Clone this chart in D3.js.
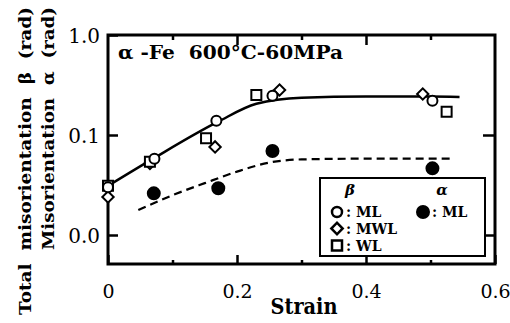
<!DOCTYPE html>
<html>
<head>
<meta charset="utf-8">
<script src="https://cdn.jsdelivr.net/npm/d3@7"></script>
<style>
  body { margin: 0; background: #fff; }
  svg text { font-family: "DejaVu Serif", serif; fill: #000; white-space: pre; }
</style>
</head>
<body>
<svg id="chart" width="510" height="323"></svg>
<script>
// beta (total misorientation) measured points
const strainML  = [0, 0.072, 0.168, 0.255, 0.503];
const betaML    = [0.030, 0.058, 0.139, 0.247, 0.220];
const strainMWL = [0, 0.065, 0.166, 0.266, 0.488];
const betaMWL   = [0.024, 0.052, 0.076, 0.282, 0.257];
const strainWL  = [0, 0.065, 0.152, 0.230, 0.525];
const betaWL    = [0.031, 0.054, 0.093, 0.251, 0.171];
// alpha (misorientation) measured points
const strainAlpha = [0.071, 0.171, 0.255, 0.503];
const alphaML     = [0.0261, 0.0293, 0.0692, 0.0464];
// hand drawn trend lines
const fitStrainB = [0, 0.07, 0.17, 0.23, 0.30, 0.40, 0.50, 0.545];
const fitBeta    = [0.031, 0.058, 0.135, 0.205, 0.236, 0.242, 0.242, 0.240];
const fitStrainA = [0.047, 0.10, 0.15, 0.20, 0.25, 0.30, 0.40, 0.535];
const fitAlpha   = [0.0178, 0.025, 0.033, 0.043, 0.053, 0.057, 0.058, 0.058];
// ticks
const xMajor = [0, 0.2, 0.4, 0.6];
const xMinor = [0.1, 0.3, 0.5];
const yTicks = [1, 0.1, 0.01];
const yLabels = ["1.0", "0.1", "0.0"];

var svg = d3.select('#chart');
var plot = { l: 108, r: 495, t: 35, b: 264 };

var x = d3.scaleLinear().domain([0, 0.6]).range([plot.l, plot.r]);
var y = d3.scaleLog().domain([Math.pow(10, -2.29), 1]).range([plot.b, plot.t]);

// axes
function styleAxis(g) {
  g.attr('font-family', null);
  g.select('.domain').remove();
  g.selectAll('.tick line').attr('stroke', '#000').attr('stroke-width', 2.5);
}

var bottom = svg.append('g').attr('transform', `translate(0,${plot.b})`)
  .call(d3.axisBottom(x).tickValues(xMajor).tickSizeInner(-9).tickFormat(d => d === 0 ? '0' : d3.format('.1f')(d)));
styleAxis(bottom);
bottom.selectAll('.tick text').attr('y', 34).attr('dy', null).style('font-size', '19px');
svg.append('g').attr('transform', `translate(0,${plot.b})`)
  .call(d3.axisBottom(x).tickValues(xMinor).tickSizeInner(-4).tickFormat('')).call(styleAxis);

svg.append('g').attr('transform', `translate(0,${plot.t})`)
  .call(d3.axisTop(x).tickValues([0.2, 0.4]).tickSizeInner(-10).tickFormat('')).call(styleAxis);
svg.append('g').attr('transform', `translate(0,${plot.t})`)
  .call(d3.axisTop(x).tickValues(xMinor).tickSizeInner(-5).tickFormat('')).call(styleAxis);

var left = svg.append('g').attr('transform', `translate(${plot.l},0)`)
  .call(d3.axisLeft(y).tickValues(yTicks).tickSizeInner(-10).tickPadding(8)
    .tickFormat((d, i) => yLabels[i]));
styleAxis(left);
left.selectAll('.tick text').attr('dy', '0.36em').style('font-size', '20px');

svg.append('g').attr('transform', `translate(${plot.r},0)`)
  .call(d3.axisRight(y).tickValues([0.1, 0.01]).tickSizeInner(-12).tickFormat('')).call(styleAxis);

svg.append('rect')
  .attr('x', plot.l).attr('y', plot.t)
  .attr('width', plot.r - plot.l).attr('height', plot.b - plot.t)
  .attr('fill', 'none').attr('stroke', '#000').attr('stroke-width', 3);

// trend lines
var line = d3.line().curve(d3.curveMonotoneX);
svg.append('path')
  .attr('d', line(fitStrainB.map((s, i) => [x(s), y(fitBeta[i])])))
  .attr('fill', 'none').attr('stroke', '#000').attr('stroke-width', 2.5);
svg.append('path')
  .attr('d', line(fitStrainA.map((s, i) => [x(s), y(fitAlpha[i])])))
  .attr('fill', 'none').attr('stroke', '#000').attr('stroke-width', 2.2)
  .attr('stroke-dasharray', '8,5');

// markers
var sqSym = d3.symbol().type(d3.symbolSquare).size(100);
var diaSym = d3.symbol().type(d3.symbolSquare).size(64);

function squares(xs, ys) {
  svg.append('g').selectAll('path').data(xs).enter().append('path')
    .attr('d', sqSym)
    .attr('transform', (d, i) => `translate(${x(d)},${y(ys[i])})`)
    .attr('fill', '#fff').attr('stroke', '#000').attr('stroke-width', 2);
}
function diamonds(xs, ys) {
  svg.append('g').selectAll('path').data(xs).enter().append('path')
    .attr('d', diaSym)
    .attr('transform', (d, i) => `translate(${x(d)},${y(ys[i])}) rotate(45)`)
    .attr('fill', '#fff').attr('stroke', '#000').attr('stroke-width', 2);
}
function circles(xs, ys, filled) {
  svg.append('g').selectAll('circle').data(xs).enter().append('circle')
    .attr('cx', d => x(d)).attr('cy', (d, i) => y(ys[i]))
    .attr('r', filled ? 6 : 5)
    .attr('fill', filled ? '#000' : '#fff')
    .attr('stroke', '#000').attr('stroke-width', 2);
}
diamonds(strainMWL, betaMWL);
squares(strainWL, betaWL);
circles(strainML, betaML, false);
circles(strainAlpha, alphaML, true);

// title inside plot
svg.append('text').attr('x', 118).attr('y', 58.5)
  .attr('font-weight', 'bold').style('font-size', '18px')
  .attr('textLength', 225).attr('lengthAdjust', 'spacingAndGlyphs')
  .text('\u03b1 -Fe  600\u00b0C-60MPa');

// axis titles
svg.append('text').attr('x', 304).attr('y', 314)
  .attr('text-anchor', 'middle').attr('font-weight', 'bold').style('font-size', '22px')
  .attr('textLength', 67).attr('lengthAdjust', 'spacingAndGlyphs')
  .text('Strain');

svg.append('text').attr('transform', 'translate(31,7) rotate(-90)')
  .attr('text-anchor', 'end').attr('font-weight', 'bold').style('font-size', '17px')
  .attr('textLength', 308).attr('lengthAdjust', 'spacingAndGlyphs')
  .text('Total  misorientation  \u03b2  (rad)');
svg.append('text').attr('transform', 'translate(54,7) rotate(-90)')
  .attr('text-anchor', 'end').attr('font-weight', 'bold').style('font-size', '17px')
  .attr('textLength', 243).attr('lengthAdjust', 'spacingAndGlyphs')
  .text('Misorientation  \u03b1  (rad)');

// legend
var lg = svg.append('g');
lg.append('rect').attr('x', 320).attr('y', 178).attr('width', 165).attr('height', 78)
  .attr('fill', '#fff').attr('stroke', '#000').attr('stroke-width', 2);
lg.append('text').attr('x', 350).attr('y', 195).attr('text-anchor', 'middle')
  .attr('font-weight', 'bold').attr('font-style', 'italic').style('font-size', '15px').text('\u03b2');
lg.append('text').attr('x', 442).attr('y', 195).attr('text-anchor', 'middle')
  .attr('font-weight', 'bold').attr('font-style', 'italic').style('font-size', '15px').text('\u03b1');

lg.append('circle').attr('cx', 337).attr('cy', 212).attr('r', 5)
  .attr('fill', '#fff').attr('stroke', '#000').attr('stroke-width', 2.5);
lg.append('path').attr('d', diaSym).attr('transform', 'translate(337,228.5) rotate(45)')
  .attr('fill', '#fff').attr('stroke', '#000').attr('stroke-width', 2.5);
lg.append('path').attr('d', sqSym).attr('transform', 'translate(337,245.5)')
  .attr('fill', '#fff').attr('stroke', '#000').attr('stroke-width', 2.5);
lg.append('circle').attr('cx', 423).attr('cy', 212).attr('r', 6)
  .attr('fill', '#000').attr('stroke', '#000').attr('stroke-width', 2);

var legendRows = [[346, 217, ': ML'], [346, 233.5, ': MWL'], [346, 250.5, ': WL'], [432, 217, ': ML']];
lg.selectAll('.lt').data(legendRows).enter().append('text')
  .attr('class', 'lt')
  .attr('x', d => d[0]).attr('y', d => d[1])
  .attr('font-weight', 'bold').style('font-size', '14px')
  .text(d => d[2]);
</script>
</body>
</html>
